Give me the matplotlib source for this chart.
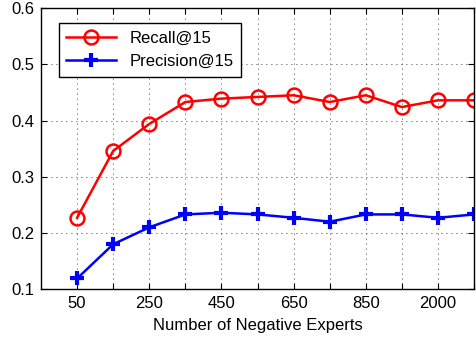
# recall / precision vs number of negative experts
import matplotlib
matplotlib.use('Agg')
import matplotlib.pyplot as plt
import numpy as np

plt.rcParams['font.family'] = ['Liberation Sans', 'DejaVu Sans']

negatives = ['50', '150', '250', '350', '450', '550', '650', '750', '850', '1000', '2000', '3000']
recall = [0.227, 0.346, 0.394, 0.433, 0.439, 0.442, 0.445, 0.433, 0.445, 0.424, 0.436, 0.436]
precision = [0.119, 0.180, 0.210, 0.233, 0.236, 0.233, 0.227, 0.220, 0.233, 0.233, 0.227, 0.233]

x = np.arange(1, len(negatives) + 1)

fig = plt.figure(figsize=(4.77, 3.39), dpi=100)
ax = fig.add_axes([0.086, 0.147, 0.908, 0.829])

ax.plot(x, recall, color='red', lw=1.8, marker='o', ms=10, mfc='none', mec='red', mew=1.8, label='Recall@15')
ax.plot(x, precision, color='blue', lw=1.8, marker='+', ms=10, mec='blue', mew=3, label='Precision@15')

ax.set_xlim(0, 12)
ax.set_ylim(0.1, 0.6)
ax.set_xticks(x)
ax.set_xticklabels([lab if i % 2 == 0 else '' for i, lab in enumerate(negatives)])
ax.set_yticks([0.1, 0.2, 0.3, 0.4, 0.5, 0.6])
ax.set_yticklabels(['0.1', '0.2', '0.3', '0.4', '0.5', '0.6'])
ax.grid(True, color='black', linestyle=(0, (1, 5)), linewidth=0.6)
ax.tick_params(direction='in', top=True, right=True, labelsize=12, length=4, width=0.8, pad=5)
for s in ax.spines.values():
    s.set_linewidth(1.0)
ax.set_xlabel('Number of Negative Experts', fontsize=12, labelpad=5)

leg = ax.legend(loc='upper left', bbox_to_anchor=(0.022, 0.975), fontsize=12, handlelength=3.0,
                fancybox=False, edgecolor='black', framealpha=1, borderpad=0.45, labelspacing=0.5)
leg.get_frame().set_linewidth(1.0)

plt.savefig('out.png', dpi=100)
plt.close()
